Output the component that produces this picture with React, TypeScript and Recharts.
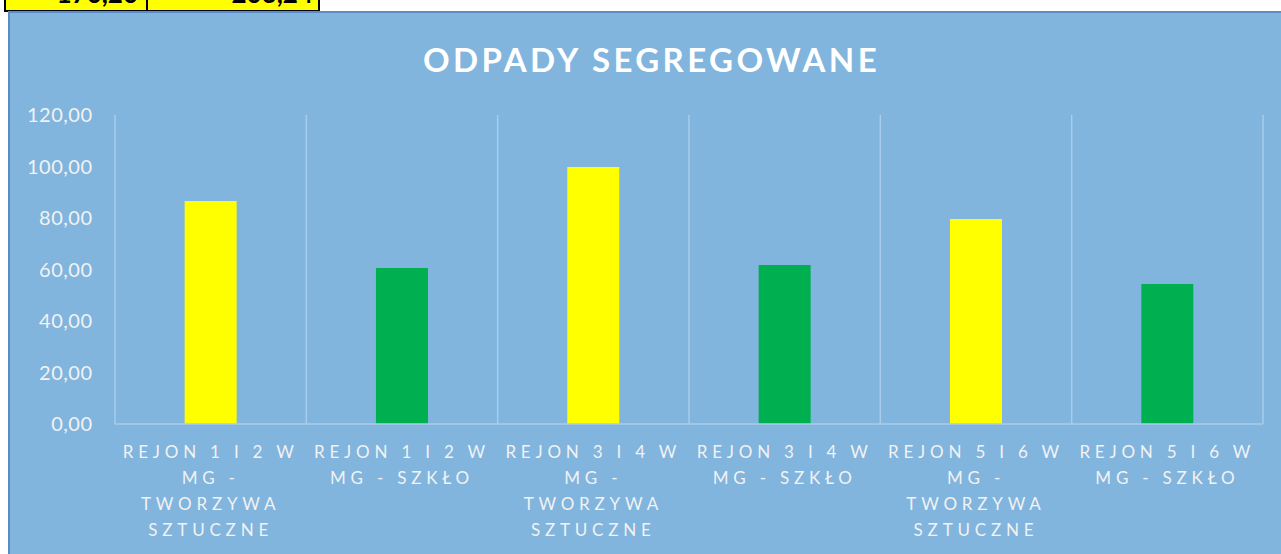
import React from 'react';
import { BarChart, Bar, XAxis, YAxis, CartesianGrid, Cell } from 'recharts';

const categories = [
  'REJON 1 I 2 W MG - TWORZYWA SZTUCZNE',
  'REJON 1 I 2 W MG - SZKŁO',
  'REJON 3 I 4 W MG - TWORZYWA SZTUCZNE',
  'REJON 3 I 4 W MG - SZKŁO',
  'REJON 5 I 6 W MG - TWORZYWA SZTUCZNE',
  'REJON 5 I 6 W MG - SZKŁO',
];

// how Excel wrapped each category label
const categoryLines = [
  ['REJON 1 I 2 W', 'MG -', 'TWORZYWA', 'SZTUCZNE'],
  ['REJON 1 I 2 W', 'MG - SZKŁO'],
  ['REJON 3 I 4 W', 'MG -', 'TWORZYWA', 'SZTUCZNE'],
  ['REJON 3 I 4 W', 'MG - SZKŁO'],
  ['REJON 5 I 6 W', 'MG -', 'TWORZYWA', 'SZTUCZNE'],
  ['REJON 5 I 6 W', 'MG - SZKŁO'],
];

const values = [86.6, 60.6, 99.8, 61.7, 79.6, 54.4];
const yTicks = [0, 20, 40, 60, 80, 100, 120];
const headerCells = ['170,20', '203,24'];

const barColors = ['#FFFF00', '#00B050'];
const font = 'Lato, "Open Sans", sans-serif';

const chartData = categories.map((name, i) => ({ name, value: values[i], lines: categoryLines[i] }));

const fmt = (v: number) => v.toFixed(2).replace('.', ',');

const CategoryTick = (props: any) => {
  const { x, y, index } = props;
  const lines = categoryLines[index] || [];
  return (
    <text x={x} y={y + 34} textAnchor="middle" fill="#F2F2F2" fontSize={17} fontFamily={font} style={{ letterSpacing: '4.8px' }}>
      {lines.map((l, i) => (
        <tspan key={i} x={x} dy={i === 0 ? 0 : 26}>{l}</tspan>
      ))}
    </text>
  );
};

const boundaryLines = ({ offset }: any) => {
  const n = categories.length;
  return Array.from({ length: n + 1 }, (_, i) => offset.left + (i * offset.width) / n);
};

const App: React.FC = () => {
  return (
    <div style={{ position: 'absolute', left: 0, top: 0, width: 1281, height: 554, overflow: 'hidden', background: '#fff' }}>
      {/* spreadsheet cells peeking above the chart */}
      <div style={{ position: 'absolute', left: 4, top: -12, height: 20, display: 'flex', border: '2px solid #000', background: '#FFFF00' }}>
        {headerCells.map((t, i) => (
          <div key={i} style={{
            width: i === 0 ? 140 : 172, textAlign: 'right', paddingRight: i === 0 ? 8 : 5, boxSizing: 'border-box',
            borderLeft: i > 0 ? '2px solid #000' : 'none', fontFamily: font, fontWeight: 700, fontSize: 26, lineHeight: '20px', color: '#000',
            overflow: 'hidden',
          }}>
            <span style={{ position: 'relative', top: -7 }}>{t}</span>
          </div>
        ))}
      </div>
      <div style={{
        position: 'absolute', left: 8, top: 11, width: 1290, height: 560,
        background: '#81B5DE', borderLeft: '2px solid #5B8CC6', borderTop: '2px solid #5B8CC6',
      }}>
        <div style={{
          position: 'absolute', left: 0, top: 26, width: 1283, textAlign: 'center',
          fontFamily: font, fontWeight: 700, fontSize: 33, color: '#fff', letterSpacing: '3.4px',
        }}>ODPADY SEGREGOWANE</div>
        <BarChart
          width={1271}
          height={541}
          data={chartData}
          margin={{ top: 102, right: 18, left: 0, bottom: 0 }}
          barCategoryGap="36.4%"
        >
          <CartesianGrid horizontal={false} stroke="#A9CCEA" strokeWidth={1.5} verticalCoordinatesGenerator={boundaryLines} />
          <XAxis
            dataKey="name"
            height={130}
            stroke="#A9CCEA"
            strokeWidth={1.5}
            tickLine={false}
            tickSize={0}
            tickMargin={0}
            interval={0}
            tick={<CategoryTick />}
          />
          <YAxis
            width={105}
            domain={[0, 120]}
            ticks={yTicks}
            axisLine={false}
            tickLine={false}
            tickSize={0}
            tickMargin={22.5}
            tickFormatter={fmt}
            tick={{ fill: '#F2F2F2', fontSize: 20, fontFamily: font, style: { letterSpacing: '0.5px' } }}
          />
          <Bar dataKey="value" isAnimationActive={false}>
            {chartData.map((_, i) => (
              <Cell key={i} fill={barColors[i % 2]} />
            ))}
          </Bar>
        </BarChart>
      </div>
    </div>
  );
};

export default App;
